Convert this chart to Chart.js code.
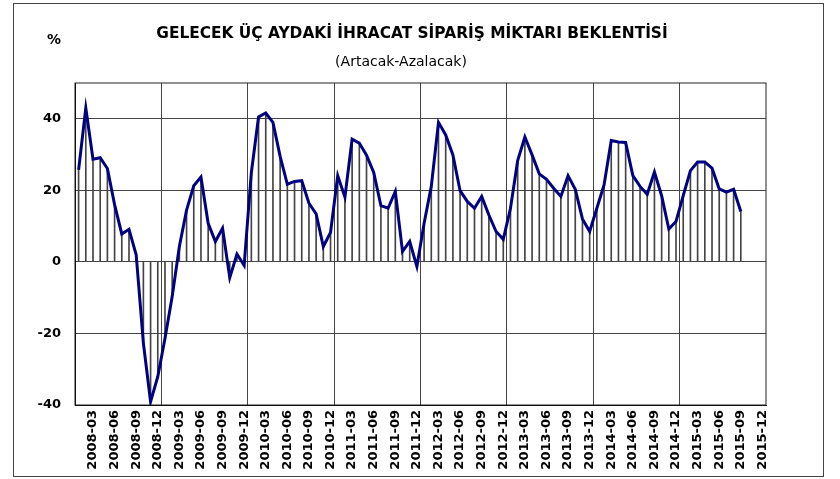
<!DOCTYPE html>
<html>
<head>
<meta charset="utf-8">
<script src="https://cdn.jsdelivr.net/npm/chart.js@4.4.1/dist/chart.umd.min.js"></script>
<style>
  body { margin: 0; background: #fff; font-family: "DejaVu Sans", sans-serif; }
  #wrap { position: relative; width: 840px; height: 479px; overflow: hidden; }
  #frame { position: absolute; left: 13px; top: 3px; width: 811px; height: 474px; border: 1px solid #444; box-sizing: border-box; }
  #chart { position: absolute; left: 0; top: 0; }
  .txt { position: absolute; color: #000; white-space: nowrap; }
  #title { left: 0; width: 824px; top: 24px; text-align: center; font-weight: bold; font-size: 15.4px; }
  #subtitle { left: 0; width: 802px; top: 53px; text-align: center; font-size: 14px; }
  #unit { left: 47px; top: 31px; font-weight: bold; font-size: 14px; }
</style>
</head>
<body>
<div id="wrap">
  <div id="frame"></div>
  <canvas id="chart" width="840" height="479"></canvas>
  <div class="txt" id="title">GELECEK ÜÇ AYDAKİ İHRACAT SİPARİŞ MİKTARI BEKLENTİSİ</div>
  <div class="txt" id="subtitle">(Artacak-Azalacak)</div>
  <div class="txt" id="unit">%</div>
</div>
<script>
// aylar: 2008-01 ... 2015-12
const months = [
  "2008-01","2008-02","2008-03","2008-04","2008-05","2008-06","2008-07","2008-08","2008-09","2008-10","2008-11","2008-12",
  "2009-01","2009-02","2009-03","2009-04","2009-05","2009-06","2009-07","2009-08","2009-09","2009-10","2009-11","2009-12",
  "2010-01","2010-02","2010-03","2010-04","2010-05","2010-06","2010-07","2010-08","2010-09","2010-10","2010-11","2010-12",
  "2011-01","2011-02","2011-03","2011-04","2011-05","2011-06","2011-07","2011-08","2011-09","2011-10","2011-11","2011-12",
  "2012-01","2012-02","2012-03","2012-04","2012-05","2012-06","2012-07","2012-08","2012-09","2012-10","2012-11","2012-12",
  "2013-01","2013-02","2013-03","2013-04","2013-05","2013-06","2013-07","2013-08","2013-09","2013-10","2013-11","2013-12",
  "2014-01","2014-02","2014-03","2014-04","2014-05","2014-06","2014-07","2014-08","2014-09","2014-10","2014-11","2014-12",
  "2015-01","2015-02","2015-03","2015-04","2015-05","2015-06","2015-07","2015-08","2015-09","2015-10","2015-11","2015-12"
];

// beklenti (artacak - azalacak), %
const expectation = [
  25.7, 43.0, 28.7, 29.1, 26.1, 16.0, 7.8, 9.1, 2.0, -22.7, -39.1, -32.1,
  -21.4, -9.7, 4.3, 14.5, 21.3, 23.7, 10.8, 5.7, 9.4, -4.4, 2.2, -1.0,
  25.0, 40.5, 41.6, 39.0, 29.5, 21.7, 22.5, 22.7, 16.4, 13.4, 4.3, 8.2,
  24.1, 18.1, 34.3, 33.2, 29.8, 25.0, 15.7, 15.0, 19.7, 2.9, 5.7, -1.3,
  10.8, 21.1, 39.0, 35.5, 29.9, 19.9, 16.9, 15.0, 18.3, 13.1, 8.5, 6.3,
  15.0, 28.3, 34.9, 29.9, 24.6, 23.1, 20.6, 18.3, 24.1, 20.3, 12.0, 8.5,
  15.0, 21.5, 33.9, 33.5, 33.4, 24.1, 21.1, 18.9, 25.1, 18.5, 9.2, 11.3,
  18.5, 25.5, 27.9, 27.9, 26.2, 20.4, 19.5, 20.3, 14.1
];

const yTicks = [-40, -20, 0, 20, 40];

// cerceve
const plotBorder = {
  id: "plotBorder",
  afterDraw(chart) {
    const { ctx, chartArea } = chart;
    ctx.save();
    ctx.strokeStyle = "#222";
    ctx.lineWidth = 1;
    ctx.strokeRect(chartArea.left, chartArea.top, chartArea.right - chartArea.left, chartArea.bottom - chartArea.top);
    ctx.restore();
  }
};

const ctx = document.getElementById("chart").getContext("2d");
new Chart(ctx, {
  type: "bar",
  data: {
    labels: months,
    datasets: [
      {
        type: "line",
        data: expectation,
        borderColor: "#000080",
        borderWidth: 3,
        pointRadius: 0,
        tension: 0,
        order: 0
      },
      {
        type: "bar",
        data: expectation,
        backgroundColor: "#444",
        borderWidth: 0,
        barThickness: 1,
        order: 1
      }
    ]
  },
  options: {
    responsive: false,
    animation: false,
    devicePixelRatio: 1,
    layout: { padding: { left: 0, top: 83, right: 74, bottom: 0 } },
    plugins: {
      legend: { display: false },
      tooltip: { enabled: false }
    },
    scales: {
      x: {
        offset: true,
        grid: {
          offset: true,
          drawTicks: false,
          color: (c) => (c.index !== undefined && c.index % 12 === 0 ? "#444" : "transparent")
        },
        border: { color: "#000" },
        ticks: {
          autoSkip: false,
          minRotation: 90,
          maxRotation: 90,
          padding: 5,
          color: "#000",
          font: { family: "DejaVu Sans", size: 13, weight: "bold" },
          callback: (v, i) => (i % 3 === 2 ? months[i] : "")
        },
        afterFit: (s) => { s.height = 74; }
      },
      y: {
        min: -40,
        max: 50,
        afterBuildTicks: (s) => { s.ticks = yTicks.map((v) => ({ value: v })); },
        grid: { color: "#444", drawTicks: false },
        border: { color: "#000" },
        ticks: {
          padding: 14,
          color: "#000",
          font: { family: "DejaVu Sans", size: 13, weight: "bold" }
        },
        afterFit: (s) => { s.width = 75; }
      }
    }
  },
  plugins: [plotBorder]
});
</script>
</body>
</html>
